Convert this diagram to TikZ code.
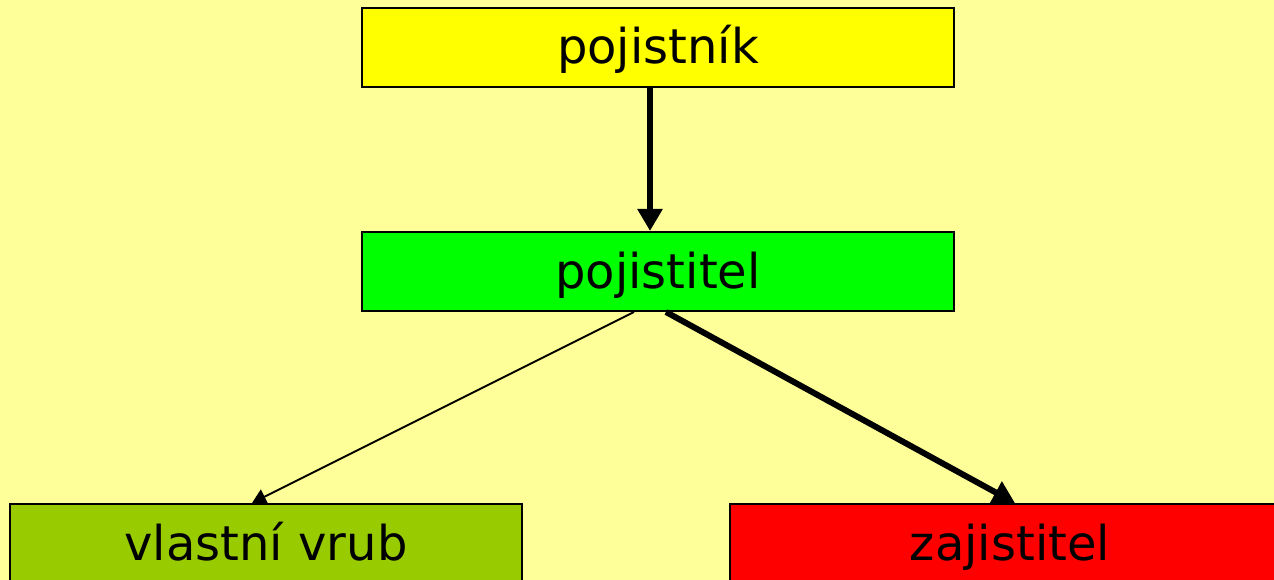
\documentclass[tikz,border=0pt]{standalone}
\usepackage{fontspec}
\setmainfont{DejaVu Sans}
\usetikzlibrary{arrows.meta}
\definecolor{bg}{HTML}{FFFF99}
\definecolor{cyel}{HTML}{FFFF00}
\definecolor{cgrn}{HTML}{00FF00}
\definecolor{colive}{HTML}{99CC00}
\definecolor{cred}{HTML}{FF0000}
\tikzset{
  box/.style={draw=black, line width=2pt, minimum height=79pt, inner sep=0pt,
    font=\fontsize{48}{56}\selectfont, text height=39pt, text depth=6pt},
  thickarrow/.style={line width=6pt, -{Triangle[length=22pt,width=24pt]}},
  thinarrow/.style={line width=2pt, -{Triangle[length=14pt,width=16pt]}}
}
\begin{document}
\begin{tikzpicture}[x=1pt,y=-1pt]
\useasboundingbox (0,0) rectangle (1274,580);
\clip (0,0) rectangle (1274,580);
\fill[bg] (0,0) rectangle (1274,580);
\node[box, fill=cyel, minimum width=592pt] (pojistnik) at (658,47.5) {pojistník};
\node[box, fill=cgrn, minimum width=592pt] (pojistitel) at (658,271.5) {pojistitel};
\node[box, fill=colive, minimum width=512pt] (vrub) at (266,543.5) {vlastní vrub};
\node[box, fill=cred, minimum width=560pt] (zajistitel) at (1010,543.5) {zajistitel};
\draw[thickarrow] ([xshift=-8pt]pojistnik.south) -- ([xshift=-8pt]pojistitel.north);
\draw[thinarrow] ([xshift=-24pt]pojistitel.south) -- ([xshift=-14pt]vrub.north);
\draw[thickarrow] ([xshift=8pt]pojistitel.south) -- ([xshift=5pt]zajistitel.north);
\end{tikzpicture}
\end{document}
